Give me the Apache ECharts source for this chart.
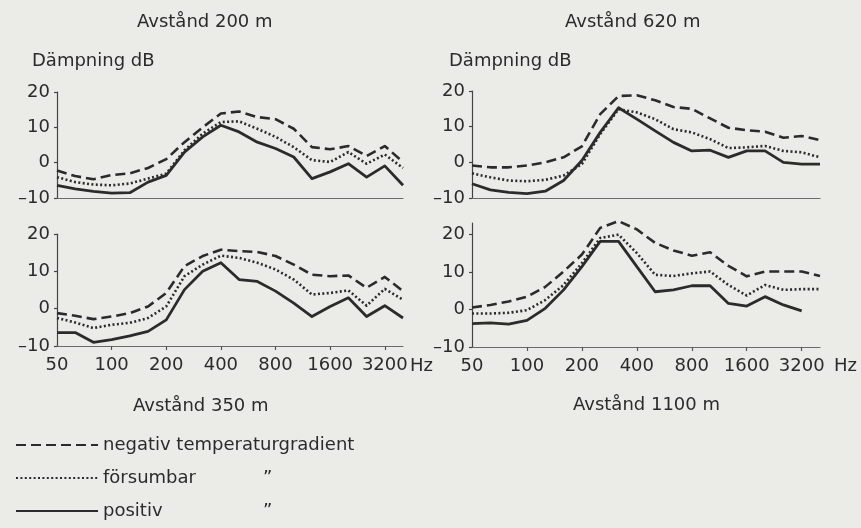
<!DOCTYPE html>
<html>
<head>
<meta charset="utf-8">
<script src="https://cdn.jsdelivr.net/npm/echarts@6/dist/echarts.min.js"></script>
<style>
html,body{margin:0;padding:0;background:#ebebe8;}
#c{width:861px;height:528px;}
</style>
</head>
<body>
<div id="c"></div>
<script>
// 1/3-octave band centre frequencies (Hz)
const freqs = ['50','63','80','100','125','160','200','250','315','400','500','630','800','1000','1250','1600','2000','2500','3150','4000'];
const xTickLabels = ['50','100','200','400','800','1600','3200'];
const yTicks = [-10, 0, 10, 20];
const seriesNames = ['negativ temperaturgradient', 'försumbar', 'positiv'];
const panelTitles = ['Avstånd 200 m', 'Avstånd 620 m', 'Avstånd 350 m', 'Avstånd 1100 m'];

// Avstånd 200 m
const neg200  = [-2.2,-3.8,-4.7,-3.5,-3.0,-1.5,1.0,5.8,10.0,13.9,14.5,12.9,12.3,9.6,4.4,3.8,4.7,1.9,4.7,0.2];
const fors200 = [-4.1,-5.5,-6.2,-6.4,-5.9,-4.5,-3.1,3.5,8.2,11.5,11.7,9.6,7.3,4.4,0.7,0.2,3.0,-0.3,2.3,-1.5];
const pos200  = [-6.4,-7.4,-8.1,-8.6,-8.5,-5.5,-3.6,3.0,7.3,10.6,8.7,5.8,4.0,1.6,-4.5,-2.6,-0.3,-4.1,-0.9,-6.4];
// Avstånd 620 m
const neg620  = [-0.9,-1.4,-1.4,-0.9,0.0,1.4,4.5,13.5,18.6,18.8,17.4,15.5,15.0,12.3,9.7,9.0,8.6,6.9,7.4,6.2];
const fors620 = [-3.1,-4.2,-5.1,-5.3,-4.9,-3.7,-0.5,7.9,14.9,14.0,12.1,9.3,8.4,6.5,4.0,4.2,4.6,3.2,2.8,1.4];
const pos620  = [-6.0,-7.7,-8.4,-8.8,-8.1,-5.1,0.5,8.4,15.3,12.1,8.8,5.6,3.2,3.4,1.4,3.2,3.2,0.0,-0.5,-0.5];
// Avstånd 350 m
const neg350  = [-1.2,-1.9,-2.8,-2.1,-1.2,0.6,4.2,11.4,14.1,15.8,15.4,15.2,14.1,11.8,9.1,8.7,8.9,5.6,8.5,4.7];
const fors350 = [-2.5,-3.7,-5.2,-4.3,-3.8,-2.5,0.6,8.7,11.8,14.2,13.6,12.3,10.5,7.8,3.8,4.2,4.9,0.8,5.3,2.4];
const pos350  = [-6.4,-6.4,-9.0,-8.3,-7.3,-6.1,-3.0,5.1,10.0,12.3,7.8,7.3,4.7,1.5,-2.1,0.6,2.9,-2.1,0.8,-2.5];
// Avstånd 1100 m
const neg1100  = [0.5,1.2,2.1,3.4,6.0,10.1,14.6,21.7,23.5,21.3,17.7,15.7,14.3,15.2,11.6,8.8,10.1,10.1,10.1,8.9];
const fors1100 = [-1.1,-1.1,-0.9,-0.2,2.5,6.5,12.3,19.0,19.9,15.0,9.2,8.9,9.6,10.1,6.5,3.7,6.5,5.2,5.4,5.4];
const pos1100  = [-3.8,-3.6,-3.9,-2.9,0.3,5.2,11.4,18.1,18.1,11.4,4.7,5.2,6.3,6.3,1.6,0.9,3.4,1.2,-0.4,null];

const panels = [
  [neg200, fors200, pos200],
  [neg620, fors620, pos620],
  [neg350, fors350, pos350],
  [neg1100, fors1100, pos1100]
];

const INK = '#2b2b2b';
const FONT = 'DejaVu Sans';
const lineTypes = [[10, 5], [2, 2.4], 'solid'];
const lineWidths = [2.6, 2.6, 2.8];

const grids = [
  {left: 57, top: 92, width: 346, height: 106},
  {left: 472, top: 91, width: 348, height: 107},
  {left: 57, top: 234, width: 346, height: 112},
  {left: 472, top: 223, width: 348, height: 124}
];
const yMax = [20, 20, 20, 23];

const chart = echarts.init(document.getElementById('c'), null, {renderer: 'canvas'});

const xAxes = grids.map((g, i) => {
  const bottom = i >= 2;
  return {
    gridIndex: i, type: 'category', data: freqs, boundaryGap: false,
    axisLine: {show: true, onZero: false, lineStyle: {color: '#6a6a6a', width: 1.2}},
    axisTick: {show: bottom, length: 4, inside: false,
      interval: (idx) => idx % 3 === 0 && idx > 0 && idx <= 18,
      lineStyle: {color: '#555', width: 1.2}},
    axisLabel: {show: bottom, margin: 10, fontFamily: FONT, fontSize: 18, color: INK,
      interval: (idx) => idx % 3 === 0 && idx <= 18,
      formatter: (v, idx) => xTickLabels[Math.round(idx / 3)] || ''},
    splitLine: {show: false}
  };
});

const yAxes = grids.map((g, i) => ({
  gridIndex: i, type: 'value', min: -10, max: yMax[i], interval: 10,
  axisLine: {show: true, lineStyle: {color: '#444', width: 1.2}},
  axisTick: {show: true, length: 3, customValues: yTicks, lineStyle: {color: '#444', width: 1.2}},
  axisLabel: {margin: 7, fontFamily: FONT, fontSize: 18, color: INK, customValues: yTicks,
    formatter: (v) => (v < 0 ? '\u2013' + Math.abs(v) : String(v))},
  splitLine: {show: false}
}));

const series = [];
panels.forEach((p, i) => {
  p.forEach((arr, k) => {
    series.push({
      name: seriesNames[k], type: 'line', xAxisIndex: i, yAxisIndex: i,
      data: arr, symbol: 'none', smooth: false, clip: false, silent: true,
      lineStyle: {color: INK, width: lineWidths[k], type: lineTypes[k], cap: 'butt', join: 'round'},
      itemStyle: {color: INK}
    });
  });
});

const tStyle = {fontFamily: FONT, fontSize: 18, fontWeight: 'normal', color: INK};
const titles = [
  {text: panelTitles[0], left: 137, top: 13},
  {text: panelTitles[1], left: 565, top: 13},
  {text: 'Dämpning dB', left: 32, top: 52},
  {text: 'Dämpning dB', left: 449, top: 52},
  {text: panelTitles[2], left: 133, top: 397},
  {text: panelTitles[3], left: 573, top: 396}
].map(t => Object.assign({padding: 0, textStyle: tStyle}, t));

chart.setOption({
  backgroundColor: '#ebebe8',
  animation: false,
  title: titles,
  grid: grids,
  xAxis: xAxes,
  yAxis: yAxes,
  series: series,
  legend: {
    show: true, orient: 'vertical', left: 15, top: 436, padding: 0,
    itemWidth: 82, itemHeight: 14, itemGap: 15,
    data: seriesNames,
    selectedMode: false,
    itemStyle: {opacity: 0},
    textStyle: {fontFamily: FONT, fontSize: 18, color: INK,
      rich: {a: {fontFamily: FONT, fontSize: 18, color: INK, width: 160}, b: {fontFamily: FONT, fontSize: 18, color: INK}}},
    formatter: (name) => name === seriesNames[0] ? name : '{a|' + name + '}{b|\u201D}'
  },
  graphic: [
    {type: 'text', left: 410, top: 357, style: {text: 'Hz', font: '18px "DejaVu Sans"', fill: INK}},
    {type: 'text', left: 834, top: 357, style: {text: 'Hz', font: '18px "DejaVu Sans"', fill: INK}}
  ]
});
</script>
</body>
</html>
